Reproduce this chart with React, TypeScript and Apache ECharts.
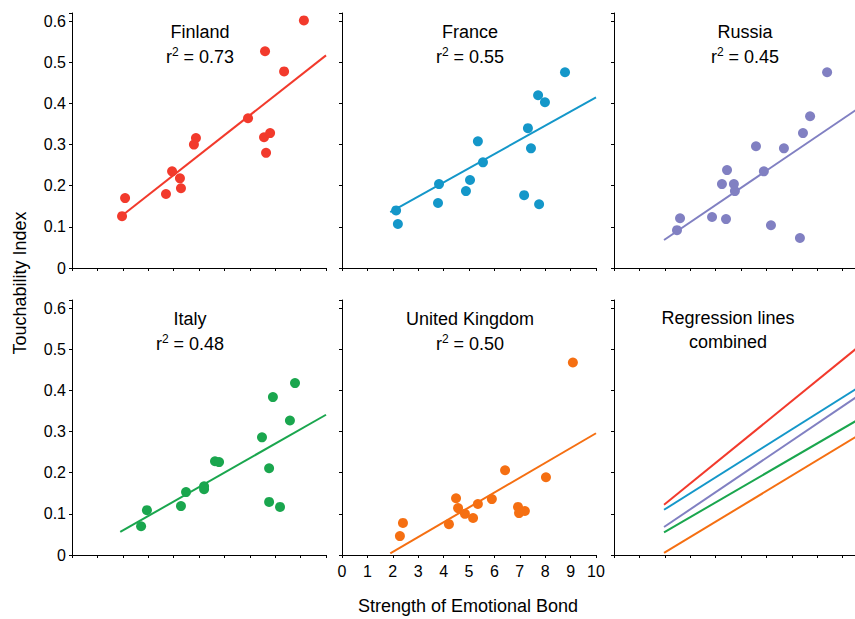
import React from "react";
import * as echarts from "echarts";

const countries = ["Finland", "France", "Russia", "Italy", "United Kingdom"];
const rSquared = ["0.73", "0.55", "0.45", "0.48", "0.50"];
const colors = ["#f23a2c", "#1497c9", "#8180c2", "#1aa64e", "#f56f12"];

const finland = [[1.97, 0.126], [2.09, 0.17], [3.7, 0.18], [3.94, 0.235], [4.25, 0.218], [4.29, 0.194], [4.8, 0.3], [4.88, 0.316], [6.93, 0.364], [7.6, 0.527], [7.56, 0.318], [7.8, 0.328], [7.64, 0.28], [8.35, 0.478], [9.13, 0.602]];
const france = [[2.13, 0.14], [2.2, 0.107], [3.82, 0.204], [3.78, 0.158], [4.88, 0.187], [5.04, 0.214], [5.35, 0.308], [5.55, 0.257], [7.17, 0.177], [7.32, 0.34], [7.44, 0.291], [7.72, 0.42], [7.99, 0.403], [7.76, 0.155], [8.78, 0.476]];
const russia = [[2.48, 0.092], [2.6, 0.121], [3.86, 0.124], [4.25, 0.204], [4.45, 0.238], [4.41, 0.119], [4.72, 0.204], [4.76, 0.187], [5.59, 0.296], [5.9, 0.235], [6.18, 0.104], [6.69, 0.291], [7.44, 0.328], [7.72, 0.369], [7.32, 0.073], [8.39, 0.476]];
const italy = [[2.72, 0.07], [2.95, 0.109], [4.29, 0.119], [4.49, 0.153], [5.2, 0.16], [5.2, 0.167], [5.63, 0.228], [5.79, 0.226], [7.48, 0.286], [7.91, 0.384], [7.76, 0.211], [7.76, 0.129], [8.19, 0.117], [8.58, 0.327], [8.78, 0.418]];
const uk = [[2.28, 0.046], [2.4, 0.078], [4.21, 0.075], [4.49, 0.138], [4.57, 0.114], [4.84, 0.1], [5.16, 0.09], [5.35, 0.124], [5.9, 0.136], [6.42, 0.206], [6.93, 0.117], [6.97, 0.102], [7.2, 0.107], [8.03, 0.189], [9.09, 0.468]];
const points = [finland, france, russia, italy, uk];

// regression line endpoints per panel [x0, y0, x1, y1]
const regLines = [
  [1.9, 0.124, 10, 0.517],
  [1.9, 0.136, 10, 0.415],
  [1.97, 0.068, 10, 0.404],
  [1.9, 0.056, 10, 0.341],
  [1.9, 0.004, 10, 0.296],
];
// combined panel lines [x0, y0, x1, y1]
const combinedLines = [
  [1.97, 0.122, 10, 0.525],
  [1.97, 0.11, 10, 0.422],
  [1.97, 0.068, 10, 0.403],
  [1.97, 0.055, 10, 0.343],
  [1.97, 0.005, 10, 0.305],
];

const xTicks = [0, 1, 2, 3, 4, 5, 6, 7, 8, 9, 10];
const yTicks = [0, 0.1, 0.2, 0.3, 0.4, 0.5, 0.6];

const FONT = "Liberation Sans, Arial, sans-serif";

export default function App() {
  const ref = React.useRef<HTMLDivElement>(null);

  React.useEffect(() => {
    if (!ref.current) return;
    const chart = echarts.init(ref.current, null, { renderer: "svg" });
    const lefts = [72, 342, 614];
    const tops = [13, 300];
    const grids: any[] = [];
    const xAxes: any[] = [];
    const yAxes: any[] = [];
    const series: any[] = [];
    const graphics: any[] = [];
    for (let i = 0; i < 6; i++) {
      const row = Math.floor(i / 3), col = i % 3;
      grids.push({ left: lefts[col], top: tops[row], width: 254, height: 255 });
      xAxes.push({
        gridIndex: i, type: "value", min: xTicks[0], max: xTicks[xTicks.length - 1], interval: 1,
        axisLine: { lineStyle: { color: "#000", width: 1 } },
        axisTick: { length: 3, lineStyle: { color: "#000" } },
        axisLabel: { show: i === 4, color: "#000", fontSize: 16, fontFamily: FONT, margin: 8 },
        splitLine: { show: false },
      });
      yAxes.push({
        gridIndex: i, type: "value", min: 0, max: 0.62, interval: 0.1,
        axisLine: { show: true, lineStyle: { color: "#000", width: 1 } },
        axisTick: { show: true, length: 3, lineStyle: { color: "#000" } },
        axisLabel: {
          show: col === 0, color: "#000", fontSize: 16, fontFamily: FONT, margin: 6,
          formatter: (v: number) => (yTicks.some(t => Math.abs(t - v) < 1e-6) ? (v === 0 ? "0" : v.toFixed(1)) : ""),
        },
        splitLine: { show: false },
      });
      if (i < 5) {
        const [x0, y0, x1, y1] = regLines[i];
        series.push({
          type: "scatter", xAxisIndex: i, yAxisIndex: i, data: points[i], symbolSize: 10,
          itemStyle: { color: colors[i], opacity: 1 }, z: 3,
        });
        series.push({
          type: "line", xAxisIndex: i, yAxisIndex: i, data: [[x0, y0], [x1, y1]], showSymbol: false,
          lineStyle: { color: colors[i], width: 2 }, z: 2,
        });
        const cx = lefts[col] + (i === 3 ? 118 : col === 2 ? 131 : 128);
        graphics.push({
          type: "text", x: cx, y: tops[row] + 5,
          style: {
            text: `{n|${countries[i]}}\n{r|r}{s|2}{r| = ${rSquared[i]}}`,
            align: "center", fill: "#000", font: `18px ${FONT}`,
            rich: {
              n: { fontSize: 18, fontFamily: FONT, lineHeight: 28, align: "center" },
              r: { fontSize: 18, fontFamily: FONT, lineHeight: 22 },
              s: { fontSize: 12, fontFamily: FONT, verticalAlign: "top", lineHeight: 22, padding: [0, 0, 8, 0] },
            },
          },
        });
      } else {
        combinedLines.forEach((l, k) => {
          series.push({
            type: "line", xAxisIndex: 5, yAxisIndex: 5, data: [[l[0], l[1]], [l[2], l[3]]],
            showSymbol: false, lineStyle: { color: colors[k], width: 2 },
          });
        });
        graphics.push({
          type: "text", x: lefts[col] + 114, y: tops[row] + 6,
          style: { text: "Regression lines\ncombined", align: "center", fill: "#000", font: `18px ${FONT}`, lineHeight: 24 },
        });
      }
    }
    graphics.push({
      type: "text", x: 20, y: 283, rotation: Math.PI / 2,
      style: { text: "Touchability Index", align: "center", verticalAlign: "middle", fill: "#000", font: `18px ${FONT}` },
    });
    graphics.push({
      type: "text", x: 468, y: 606,
      style: { text: "Strength of Emotional Bond", align: "center", verticalAlign: "middle", fill: "#000", font: `18px ${FONT}` },
    });
    chart.setOption({
      animation: false,
      grid: grids, xAxis: xAxes, yAxis: yAxes, series, graphic: graphics,
    });
    return () => chart.dispose();
  }, []);

  return (
    <div style={{ position: "absolute", left: 0, top: 0, width: 855, height: 619, overflow: "hidden" }}>
      <div ref={ref} style={{ width: 880, height: 619 }} />
    </div>
  );
}
